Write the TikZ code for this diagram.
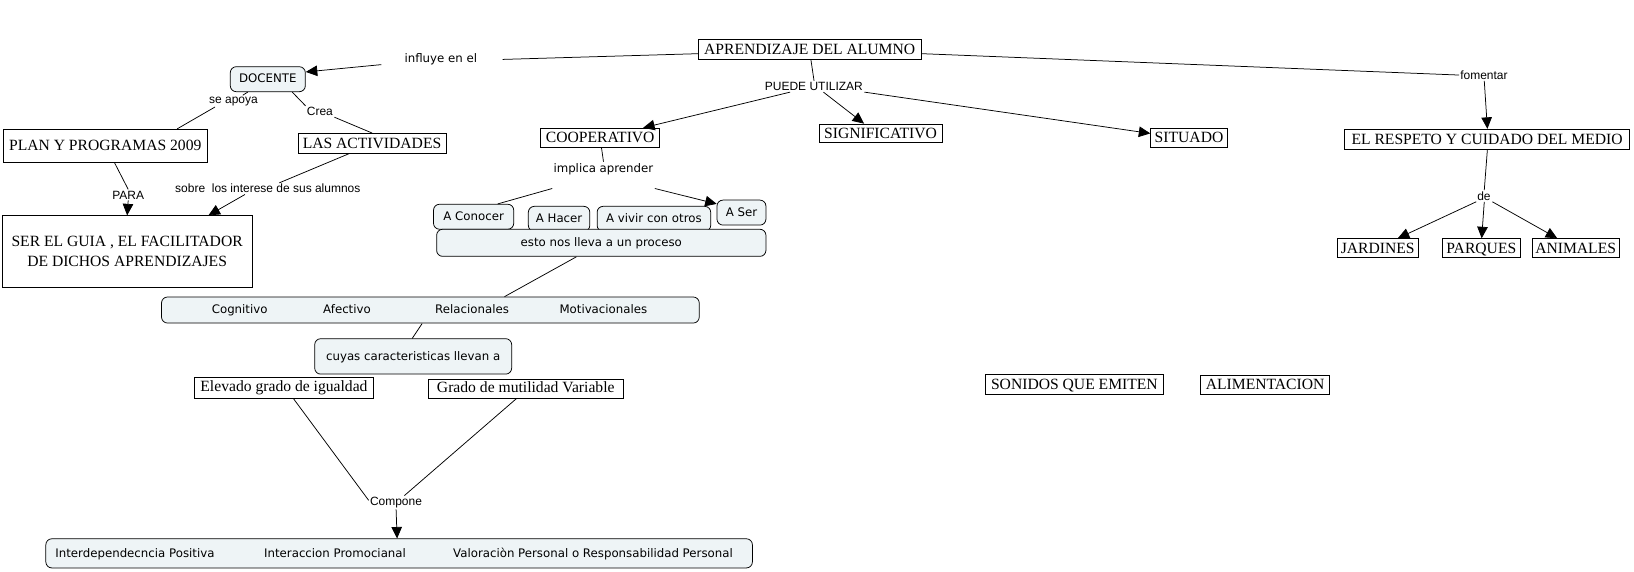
\documentclass[tikz,border=0pt]{standalone}
\usepackage{fontspec}
\setmainfont{Liberation Serif}
\newfontfamily\verdF{DejaVu Sans}
\newfontfamily\arialF{Liberation Sans}
\usetikzlibrary{arrows.meta}
\definecolor{boxfill}{HTML}{EEF4F6}
\begin{document}
\begin{tikzpicture}[x=1pt,y=-1pt, scale=1.04209, transform shape, line width=0.75pt,
 sbox/.style={draw, rectangle, inner sep=0pt, font=\fontsize{15}{19}\selectfont, text height=10.4pt, text depth=0.8pt},
 rbox/.style={draw, rounded corners=6pt, fill=boxfill, inner sep=0pt, font=\verdF\fontsize{11.3}{13}\selectfont, text height=8.3pt, text depth=1.2pt},
 lab/.style={inner sep=1pt, font=\arialF\fontsize{11.5}{13}\selectfont},
 vlab/.style={inner sep=1pt, font=\verdF\fontsize{11.3}{13}\selectfont},
 intext/.style={inner sep=0pt, font=\verdF\fontsize{11.3}{13}\selectfont, text height=8.3pt, text depth=1.2pt},
 arr/.style={-{Triangle[length=11.5pt,width=10.5pt]}}
]
\fill[white] (0,0) rectangle (1568,547.94);
\useasboundingbox (0,0) rectangle (1568,547.94);

% serif boxes
\node[sbox, minimum width=214pt, minimum height=19pt] (apr) at (777,47.5) {APRENDIZAJE DEL ALUMNO};
\node[sbox, minimum width=196pt, minimum height=32pt] (plan) at (101,140) {PLAN Y PROGRAMAS 2009};
\node[sbox, minimum width=142pt, minimum height=19pt] (act) at (357,137.5) {LAS ACTIVIDADES};
\node[draw, rectangle, inner sep=0pt, font=\fontsize{15}{19}\selectfont, minimum width=240pt, minimum height=69pt, align=center] (ser) at (122,241.5) {SER EL GUIA , EL FACILITADOR\\DE DICHOS APRENDIZAJES};
\node[sbox, minimum width=114pt, minimum height=18pt] (coop) at (576,132) {COOPERATIVO};
\node[sbox, minimum width=118pt, minimum height=18pt] (signif) at (845,128) {SIGNIFICATIVO};
\node[sbox, minimum width=74pt, minimum height=18pt] (sit) at (1141,132) {SITUADO};
\node[sbox, minimum width=274pt, minimum height=19pt] (resp) at (1427,133.5) {EL RESPETO Y CUIDADO DEL MEDIO};
\node[sbox, minimum width=78pt, minimum height=18pt] (jard) at (1322,238) {JARDINES};
\node[sbox, minimum width=75pt, minimum height=18pt] (parq) at (1421.5,238) {PARQUES};
\node[sbox, minimum width=84pt, minimum height=18pt] (anim) at (1512,238) {ANIMALES};
\node[sbox, minimum width=171pt, minimum height=20pt, text depth=3pt] (elev) at (272.5,372) {Elevado grado de igualdad};
\node[sbox, minimum width=187pt, minimum height=18pt, text depth=3pt] (grado) at (504.5,373) {Grado de mutilidad Variable};
\node[sbox, minimum width=170pt, minimum height=19pt] (son) at (1031,368.5) {SONIDOS QUE EMITEN};
\node[sbox, minimum width=124pt, minimum height=18pt] (alim) at (1214,369) {ALIMENTACION};

% rounded boxes
\node[rbox, minimum width=72pt, minimum height=24pt] (doc) at (257,76) {DOCENTE};
\node[rbox, minimum width=77pt, minimum height=24pt] (acon) at (454.5,208) {A Conocer};
\node[rbox, minimum width=59pt, minimum height=24pt] (ahac) at (536.5,210) {A Hacer};
\node[rbox, minimum width=109pt, minimum height=24pt] (aviv) at (627.5,210) {A vivir con otros};
\node[rbox, minimum width=47pt, minimum height=24pt] (aser) at (711.5,204) {A Ser};
\node[rbox, minimum width=316pt, minimum height=26pt] (esto) at (577,233) {esto nos lleva a un proceso};
\node[rbox, minimum width=516pt, minimum height=25pt] (big) at (413,297.5) {};
\node[intext] (cog) at (230,297) {Cognitivo};
\node[intext] (afe) at (333,297) {Afectivo};
\node[intext] (rel) at (453,297) {Relacionales};
\node[intext] (mot) at (579,297) {Motivacionales};
\node[rbox, minimum width=189pt, minimum height=34pt] (cuyas) at (396.5,342) {cuyas caracteristicas llevan a};
\node[rbox, minimum width=678pt, minimum height=28pt] (bot) at (383,531) {};
\node[intext] (inter) at (129.5,531) {Interdependecncia Positiva};
\node[intext] (prom) at (321.5,531) {Interaccion Promocianal};
\node[intext] (valo) at (569,531) {Valoraciòn Personal o Responsabilidad Personal};

% link labels
\node[vlab] (infl) at (423,57) {influye en el};
\node[lab] (seap) at (224,97) {se apoya};
\node[lab] (crea) at (307,107) {Crea};
\node[lab] (para) at (123,187) {PARA};
\node[lab] (sobre) at (257,181) {sobre\ \ los interese de sus alumnos};
\node[lab] (puede) at (781,83) {PUEDE UTILIZAR};
\node[vlab] (impl) at (579,162) {implica aprender};
\node[lab] (comp) at (380,482) {Compone};
\node[lab] (fom) at (1424,72) {fomentar};
\node[lab] (de) at (1424,188) {de};

% connectors
\draw ([yshift=-4pt]apr.west) -- ([xshift=23pt]infl.east);
\draw[arr] ([xshift=-21pt,yshift=-5pt]infl.west) -- ([yshift=7pt]doc.east);
\draw (doc) -- (seap);
\draw ([xshift=7pt]seap.south west) -- ([xshift=69pt]plan.north);
\draw ([xshift=-13pt]doc.south east) -- (crea.north west);
\draw (crea.south east) -- (act.north);
\draw ([xshift=9pt]plan.south) -- (para.north);
\draw[arr] (para.south) -- (ser.north);
\draw ([xshift=-22pt]act.south) -- ([xshift=11pt]sobre.north);
\draw[arr] ([xshift=-22pt]sobre.south) -- ([xshift=78pt]ser.north);

\draw ([xshift=1pt]apr.south) -- (puede.north);
\draw[arr] ([xshift=-23pt]puede.south) -- ([xshift=41pt]coop.north);
\draw[arr] ([xshift=9pt]puede.south) -- ([xshift=-16pt]signif.north);
\draw[arr] (puede.south east) -- ([yshift=4pt]sit.west);

\draw ([xshift=1pt]coop.south) -- (impl.north);
\draw ([yshift=-12pt]impl.south west) -- ([xshift=23pt]acon.north);
\draw[arr] ([yshift=-12pt]impl.south east) -- ([yshift=-4pt]aser.north west);
\draw ([xshift=-24pt]esto.south) -- ([xshift=71pt]big.north);
\draw ([xshift=-8pt]big.south) -- ([xshift=-1pt]cuyas.north);
\draw ([xshift=9pt]elev.south) -- ([yshift=2pt]comp.west);
\draw ([xshift=-9pt]grado.south) -- ([xshift=8pt]comp.north);
\draw[arr] (comp.south) -- ([xshift=-2pt]bot.north);

\draw ([yshift=-4pt]apr.east) -- (fom.west);
\draw[arr] (fom.south) -- (resp.north);
\draw (resp.south) -- (de.north);
\draw[arr] (de.south west) -- ([xshift=19pt]jard.north);
\draw[arr] (de.south) -- (parq.north);
\draw[arr] (de.south east) -- ([xshift=-18pt]anim.north);
\end{tikzpicture}
\end{document}
